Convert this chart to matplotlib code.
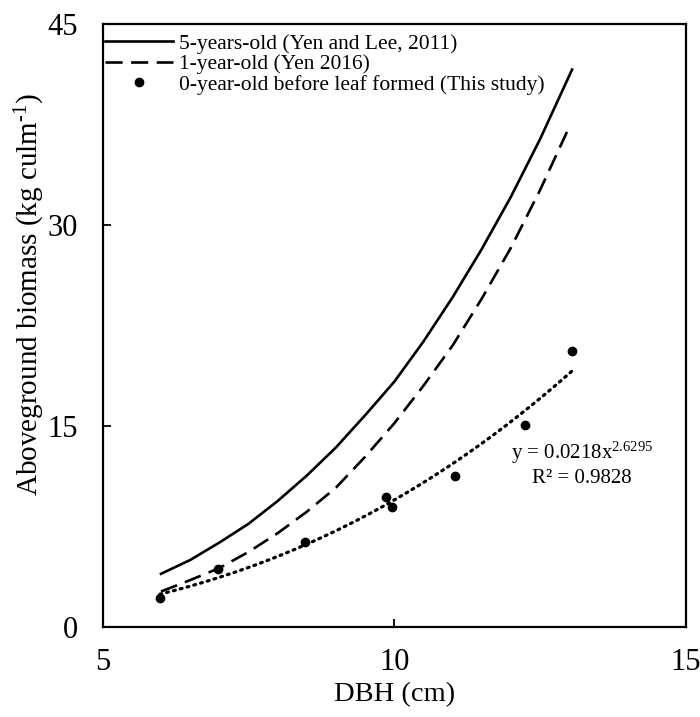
import numpy as np
import matplotlib
matplotlib.use("Agg")
import matplotlib.pyplot as plt

plt.rcParams['font.family'] = ['Liberation Serif', 'DejaVu Serif']
plt.rcParams['mathtext.fontset'] = 'custom'
plt.rcParams['mathtext.rm'] = 'Liberation Serif'
plt.rcParams['mathtext.it'] = 'Liberation Serif:italic'

# 5-years-old (Yen and Lee, 2011)
dbh_5yr = [6.0, 6.5, 7.0, 7.5, 8.0, 8.5, 9.0, 9.5, 10.0, 10.5, 11.0, 11.5, 12.0, 12.5, 13.05]
agb_5yr = [3.97, 5.0, 6.3, 7.7, 9.4, 11.3, 13.4, 15.8, 18.3, 21.3, 24.6, 28.2, 32.1, 36.4, 41.6]

# 1-year-old (Yen 2016)
dbh_1yr = [6.0, 6.5, 7.0, 7.5, 8.0, 8.5, 9.0, 9.5, 10.0, 10.5, 11.0, 11.5, 12.0, 12.5, 13.0]
agb_1yr = [2.65, 3.5, 4.4, 5.6, 7.0, 8.6, 10.4, 12.7, 15.2, 18.0, 21.0, 24.5, 28.3, 32.6, 37.3]

# 0-year-old before leaf formed (This study)
dbh_0yr = [5.98, 6.97, 8.47, 9.86, 9.96, 11.05, 12.25, 13.05]
agb_0yr = [2.14, 4.31, 6.37, 9.72, 8.98, 11.27, 15.07, 20.6]

labels = ["5-years-old (Yen and Lee, 2011)",
          "1-year-old (Yen 2016)",
          "0-year-old before leaf formed (This study)"]
eq_text = "y = 0.0218x$^{2.6295}$"
r2_text = "R² = 0.9828"

x_ticks = [5, 10, 15]
y_ticks = [0, 15, 30, 45]

fig = plt.figure(figsize=(7.0, 7.17), dpi=100)
ax = fig.add_axes([0.1467, 0.1255, 0.833, 0.841])

ax.plot(dbh_5yr, agb_5yr, color='black', lw=1.9, label=labels[0])
ax.plot(dbh_1yr, agb_1yr, color='black', lw=1.9, linestyle=(0, (6.5, 3.2)), label=labels[1])
ax.plot(dbh_0yr, agb_0yr, 'o', color='black', ms=6, label=labels[2])

# power trendline fitted to the study data (log-log regression)
b, ln_a = np.polyfit(np.log(dbh_0yr), np.log(agb_0yr), 1)
xf = np.linspace(min(dbh_0yr), max(dbh_0yr), 200)
ax.plot(xf, np.exp(ln_a) * xf ** b, color='black', lw=2.3,
        linestyle=(0, (0.6, 1.6)), dash_capstyle='round')

ax.text(13.22, 13.0, eq_text, ha='center', va='center', fontsize=15)
ax.text(13.22, 11.1, r2_text, ha='center', va='center', fontsize=15)

ax.set_xlim(5, 15)
ax.set_ylim(0, 45)
ax.set_xticks(x_ticks)
ax.set_yticks(y_ticks)
ax.tick_params(direction='in', length=6, width=1.3, labelsize=22)
ax.tick_params(axis='y', pad=18)
ax.tick_params(axis='x', pad=15)
for s in ax.spines.values():
    s.set_linewidth(1.6)

ax.set_xlabel("DBH (cm)", fontsize=20.5, labelpad=4)
ax.set_ylabel("Aboveground biomass (kg culm$^{\\text{-1}}$)", fontsize=21)
ax.yaxis.set_label_coords(-0.095, 0.552)

leg = ax.legend(loc='upper left', bbox_to_anchor=(0.0, 0.9876), frameon=False,
                fontsize=15.5, handlelength=3.15, handletextpad=0.3,
                labelspacing=0.02, borderaxespad=0.0, borderpad=0.1)

fig.savefig("out.png", dpi=100)
